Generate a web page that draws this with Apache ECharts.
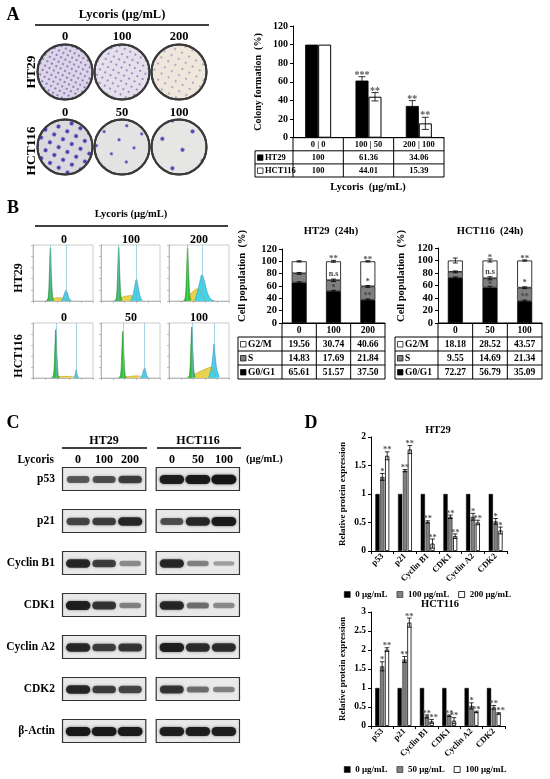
<!DOCTYPE html>
<html>
<head>
<meta charset="utf-8">
<title>Lycoris figure</title>
<script src="https://cdn.jsdelivr.net/npm/echarts@6.0.0/dist/echarts.min.js"></script>
<style>
html, body { margin: 0; padding: 0; background: #fff; }
#fig { width: 550px; height: 779px; }
</style>
</head>
<body>
<div id="fig"></div>
<script>
// ---------- A: colony formation ----------
var colonyDoses = ['0 | 0', '100 | 50', '200 | 100'];
var colonyHT29 = [100, 61.36, 34.06];
var colonyHT29Err = [0, 4.2, 5.8];
var colonyHT29Sig = ['', '***', '**'];
var colonyHCT116 = [100, 44.01, 15.39];
var colonyHCT116Err = [0, 4.5, 6.5];
var colonyHCT116Sig = ['', '**', '**'];
var plateDosesHT29 = ['0', '100', '200'];
var plateDosesHCT116 = ['0', '50', '100'];

// ---------- B: cell cycle ----------
var cycleDosesHT29 = ['0', '100', '200'];
var cycleDosesHCT116 = ['0', '50', '100'];
var ht29G0G1 = [65.61, 51.57, 37.50];
var ht29S = [14.83, 17.69, 21.84];
var ht29G2M = [19.56, 30.74, 40.66];
var ht29ErrG0G1 = [1.2, 1.5, 1.5];
var ht29ErrS = [1.5, 2, 1.5];
var ht29ErrG2M = [1, 1.5, 1];
var ht29SigTop = ['', '**', '**'];
var ht29SigG2M = ['', 'n.s', '*'];
var ht29SigS = ['', '*', '**'];
var hct116G0G1 = [72.27, 56.79, 35.09];
var hct116S = [9.55, 14.69, 21.34];
var hct116G2M = [18.18, 28.52, 43.57];
var hct116ErrG0G1 = [1.5, 2, 1.5];
var hct116ErrS = [1.5, 2.5, 1.5];
var hct116ErrG2M = [4, 2.5, 1];
var hct116SigTop = ['', '*', '**'];
var hct116SigG2M = ['', 'n.s', '*'];
var hct116SigS = ['', '*', '**'];

// flow histograms: [channel, relative count], read by eye
var histG1 = [
  [[22,0],[25,5],[27,40],[29,95],[31,40],[33,6],[35,1]],
  [[23,0],[26,6],[28,45],[30,96],[32,45],[34,7],[36,1]],
  [[24,0],[27,6],[29,45],[31,95],[33,45],[35,8],[37,2]],
  [[31,0],[34,5],[36,40],[38,88],[40,40],[42,5],[44,0]],
  [[30,0],[33,5],[35,40],[37,85],[39,40],[41,5],[43,0]],
  [[31,0],[34,6],[36,45],[38,93],[40,45],[42,8],[44,2]]
];
var histS = [
  [[31,3],[35,5],[40,6],[45,6],[50,5],[54,3],[58,1]],
  [[32,4],[38,8],[44,9],[50,10],[55,8],[60,4],[64,1]],
  [[33,8],[38,15],[43,20],[48,22],[52,18],[56,10],[60,3]],
  [[40,2],[50,3],[60,3],[68,2]],
  [[39,2],[50,3],[60,4],[68,3]],
  [[40,6],[48,10],[56,14],[64,18],[70,20],[74,12],[78,4]]
];
var histG2 = [
  [[47,0],[50,6],[53,15],[55,19],[57,15],[60,6],[64,0]],
  [[50,0],[54,10],[57,26],[60,39],[63,26],[66,10],[70,1]],
  [[43,0],[47,15],[51,33],[55,47],[59,36],[64,15],[70,3],[76,0]],
  [[68,0],[70,5],[72,15],[74,5],[76,0]],
  [[67,0],[70,6],[72,14],[74,18],[76,12],[78,4],[80,0]],
  [[66,0],[70,15],[73,40],[75,62],[77,40],[80,15],[84,2]]
];

// ---------- C: western blots (band darkness 0-1) ----------
var blotProteins = ['p53', 'p21', 'Cyclin B1', 'CDK1', 'Cyclin A2', 'CDK2', 'β-Actin'];
var blotLanesHT29 = ['0', '100', '200'];
var blotLanesHCT116 = ['0', '50', '100'];
var bandHT29 = [
  [0.55, 0.6, 0.7],
  [0.65, 0.7, 0.85],
  [0.85, 0.7, 0.3],
  [0.9, 0.75, 0.35],
  [0.85, 0.7, 0.75],
  [0.85, 0.7, 0.65],
  [0.95, 0.95, 0.95]
];
var bandHCT116 = [
  [0.9, 0.95, 1],
  [0.6, 0.85, 0.95],
  [0.85, 0.35, 0.2],
  [0.85, 0.45, 0.3],
  [0.9, 0.8, 0.8],
  [0.75, 0.45, 0.35],
  [0.9, 0.9, 0.9]
];

// ---------- D: relative protein expression ----------
var proteinNames = ['p53', 'p21', 'Cyclin B1', 'CDK1', 'Cyclin A2', 'CDK2'];
var ht29Dose0 = [1, 1, 1, 1, 1, 1];
var ht29Dose100 = [1.30, 1.41, 0.51, 0.60, 0.60, 0.52];
var ht29Dose200 = [1.67, 1.78, 0.13, 0.26, 0.50, 0.36];
var ht29Err100 = [0.06, 0.02, 0.02, 0.03, 0.06, 0.05];
var ht29Err200 = [0.07, 0.07, 0.08, 0.04, 0.04, 0.06];
var ht29Sig100 = ['*', '**', '**', '**', '*', '*'];
var ht29Sig200 = ['**', '**', '**', '**', '**', '*'];
var hct116Dose0 = [1, 1, 1, 1, 1, 1];
var hct116Dose50 = [1.57, 1.75, 0.25, 0.27, 0.53, 0.49];
var hct116Dose100 = [2.01, 2.72, 0.12, 0.14, 0.37, 0.33];
var hct116Err50 = [0.12, 0.08, 0.04, 0.02, 0.08, 0.05];
var hct116Err100 = [0.05, 0.12, 0.05, 0.08, 0.02, 0.02];
var hct116Sig50 = ['*', '**', '**', '**', '*', '**'];
var hct116Sig100 = ['**', '**', '***', '**', '**', '***'];

// ---------- helpers ----------
var SERIF = '"Liberation Serif", "Times New Roman", serif';
function fnt(size) { return 'bold ' + size + 'px ' + SERIF; }

function txt(x, y, s, size, align, extra) {
  var a = align || 'center';
  var el = { type: 'text', x: x, y: y, silent: true,
    style: { text: s, font: fnt(size), fill: '#000', textAlign: a, textVerticalAlign: 'middle', align: a, verticalAlign: 'middle' } };
  if (extra) for (var k in extra) el[k] = extra[k];
  return el;
}
function vtxt(x, y, s, size) { return txt(x, y, s, size, 'center', { rotation: Math.PI / 2 }); }
function hl(x1, y1, x2, y2, w) {
  return { type: 'line', silent: true, shape: { x1: x1, y1: y1, x2: x2, y2: y2 }, style: { stroke: '#000', lineWidth: w || 1 } };
}
function fmt(v) { return Number.isInteger(v) ? String(v) : v.toFixed(2); }

function errSeries(grid, tops, errs, dx, cap, sigs, size) {
  return {
    type: 'custom', xAxisIndex: grid, yAxisIndex: grid, silent: true, z: 5, clip: false,
    data: tops.map(function (v, i) { return [i, v, errs[i]]; }),
    renderItem: function (params, api) {
      var i = api.value(0), v = api.value(1), e = api.value(2);
      var hi = api.coord([i, v + e]), lo = api.coord([i, v - e]);
      var x = hi[0] + dx, kids = [];
      var ls = { stroke: '#000', lineWidth: 0.8 };
      if (e > 0) {
        kids.push({ type: 'line', shape: { x1: x, y1: hi[1], x2: x, y2: lo[1] }, style: ls });
        kids.push({ type: 'line', shape: { x1: x - cap, y1: hi[1], x2: x + cap, y2: hi[1] }, style: ls });
        kids.push({ type: 'line', shape: { x1: x - cap, y1: lo[1], x2: x + cap, y2: lo[1] }, style: ls });
      }
      var s = sigs ? sigs[params.dataIndex] : '';
      if (s) kids.push({ type: 'text', x: x, y: hi[1] + size * 0.35, style: { text: s, font: fnt(size), fill: '#555',
        textAlign: 'center', textVerticalAlign: 'bottom', align: 'center', verticalAlign: 'bottom' } });
      return { type: 'group', children: kids };
    }
  };
}

function noteSeries(grid, ys, labels, size, color) {
  return {
    type: 'custom', xAxisIndex: grid, yAxisIndex: grid, silent: true, z: 6,
    data: ys.map(function (v, i) { return [i, v]; }),
    renderItem: function (params, api) {
      var s = labels[params.dataIndex];
      if (!s) return null;
      var p = api.coord([api.value(0), api.value(1)]);
      var dy = s.charAt(0) === '*' ? size * 0.3 : 0;
      return { type: 'text', x: p[0], y: p[1] + dy, style: { text: s, font: fnt(size), fill: color,
        textAlign: 'center', textVerticalAlign: 'middle', align: 'center', verticalAlign: 'middle' } };
    }
  };
}

function tableEls(labelLeft, axisX, right, top, rowH, headers, rows, size) {
  var els = [], n = headers.length, colW = (right - axisX) / n, nr = rows.length;
  var bottom = top + rowH * (nr + 1);
  els.push(hl(axisX, top, right, top));
  for (var r = 0; r < nr; r++) els.push(hl(labelLeft, top + rowH * (r + 1), right, top + rowH * (r + 1)));
  els.push(hl(labelLeft, bottom, right, bottom));
  els.push(hl(labelLeft, top + rowH, labelLeft, bottom));
  for (var c = 0; c <= n; c++) els.push(hl(axisX + colW * c, top, axisX + colW * c, bottom));
  headers.forEach(function (h, c) { els.push(txt(axisX + colW * (c + 0.5), top + rowH / 2 + 0.5, h, size)); });
  rows.forEach(function (row, r) {
    var cy = top + rowH * (r + 1.5) + 0.5;
    els.push({ type: 'rect', silent: true, shape: { x: labelLeft + 2.5, y: cy - 3, width: 5.5, height: 5.5 },
      style: { fill: row.swatch, stroke: '#000', lineWidth: 0.7 } });
    els.push(txt(labelLeft + 10, cy, row.label, size, 'left'));
    row.values.forEach(function (v, c) { els.push(txt(axisX + colW * (c + 0.5), cy, fmt(v), size)); });
  });
  return els;
}

function sumArr(a, b) { return a.map(function (v, i) { return v + b[i]; }); }

// ---------- grids & axes ----------
var grids = [
  { left: 293, top: 26, width: 151, height: 111.7 },   // 0 A
  { left: 282, top: 249, width: 103, height: 74 },     // 1 B HT29
  { left: 438, top: 248, width: 104, height: 75 },     // 2 B HCT116
  { left: 371, top: 437, width: 136, height: 114 },    // 3 D HT29
  { left: 371, top: 612, width: 134, height: 114 },    // 4 D HCT116
  { left: 62, top: 458, width: 178, height: 294 }      // 5 C blots
];
var histLefts = [33, 101, 169], histWidths = [60, 59, 60];
for (var h = 0; h < 6; h++) {
  grids.push({ left: histLefts[h % 3], width: histWidths[h % 3], top: h < 3 ? 245 : 323, height: h < 3 ? 56 : 55,
    show: true, borderColor: '#aaa', borderWidth: 0.6, backgroundColor: '#fff' });
}

var axLine = { show: true, lineStyle: { color: '#000', width: 1 } };
function catX(grid, data) {
  return { type: 'category', gridIndex: grid, data: data, axisLine: axLine, axisTick: { show: false }, axisLabel: { show: false } };
}
function valY(grid, max, interval, size) {
  return { type: 'value', gridIndex: grid, min: 0, max: max, interval: interval, axisLine: axLine,
    axisTick: { show: true, length: 3, lineStyle: { color: '#000' } }, splitLine: { show: false },
    axisLabel: { color: '#000', fontFamily: SERIF, fontWeight: 'bold', fontSize: size, margin: 5 } };
}
function protX(grid) {
  return { type: 'category', gridIndex: grid, data: proteinNames, axisLine: axLine,
    axisTick: { show: true, length: 3, lineStyle: { color: '#000' } },
    axisLabel: { rotate: 45, interval: 0, margin: 4, color: '#000', fontFamily: SERIF, fontWeight: 'bold', fontSize: 8.5 } };
}

var xAxes = [catX(0, colonyDoses), catX(1, cycleDosesHT29), catX(2, cycleDosesHCT116), protX(3), protX(4),
  { type: 'value', gridIndex: 5, min: -0.62, max: 6.22, show: false }];
var yAxes = [valY(0, 120, 20, 10), valY(1, 120, 20, 10.5), valY(2, 120, 20, 10.5), valY(3, 2, 0.5, 9.5), valY(4, 3, 0.5, 9.5),
  { type: 'category', gridIndex: 5, data: blotProteins, inverse: true, show: false }];
for (h = 0; h < 6; h++) {
  var thin = { show: true, lineStyle: { color: '#999', width: 0.6 } };
  xAxes.push({ type: 'value', gridIndex: 6 + h, min: 0, max: 100, interval: 20, axisLine: thin,
    axisTick: { show: true, length: 2, lineStyle: { color: '#999', width: 0.6 } }, axisLabel: { show: false }, splitLine: { show: false } });
  yAxes.push({ type: 'value', gridIndex: 6 + h, min: 0, max: 100, interval: 20, axisLine: thin,
    axisTick: { show: true, length: 2, lineStyle: { color: '#999', width: 0.6 } }, axisLabel: { show: false }, splitLine: { show: false } });
}

// ---------- series ----------
var series = [];

// A: plates (photo stand-ins)
var plateX = [65, 122, 179], plateY = [72, 147];
var plateFill = [['#dcd5e7', '#e4dfea', '#efe6dc'], ['#dadade', '#e3e3e3', '#e6e6e4']];
var plateDecal = [
  [{ c: 'rgba(70,50,150,0.7)', s: 1, dx: [1.6, 2.2], dy: [1.6, 2.4] },
   { c: 'rgba(70,50,150,0.6)', s: 1, dx: [1.4, 3.2], dy: [1.4, 3.4] },
   { c: 'rgba(90,70,150,0.5)', s: 1, dx: [1.2, 6], dy: [1.2, 5] }],
  [{ c: 'rgba(55,40,170,0.9)', s: 1, dx: [3.5, 5.5], dy: [3.5, 5] },
   { c: 'rgba(55,40,170,0.85)', s: 1, dx: [3, 14], dy: [3, 13] },
   { c: 'rgba(55,40,170,0.85)', s: 1, dx: [3.2, 19], dy: [3.2, 17] }]
];
[plateDosesHT29, plateDosesHCT116].forEach(function (doses, r) {
  doses.forEach(function (d, c) {
    var dc = plateDecal[r][c];
    series.push({ type: 'pie', name: 'plate ' + r + '-' + d, center: [plateX[c], plateY[r]], radius: 27.5, silent: true,
      label: { show: false }, labelLine: { show: false }, emphasis: { disabled: true },
      data: [{ value: 1, name: 'plate' }],
      itemStyle: { color: plateFill[r][c], borderColor: '#3a3a3a', borderWidth: 2,
        decal: { symbol: 'circle', symbolSize: dc.s, dashArrayX: dc.dx, dashArrayY: dc.dy, rotation: 0.5, color: dc.c } } });
  });
});

// A: bars
series.push({ type: 'bar', name: 'HT29', xAxisIndex: 0, yAxisIndex: 0, data: colonyHT29, barWidth: 13, barGap: '0%', silent: true,
  itemStyle: { color: '#000', borderColor: '#000', borderWidth: 0.8 } });
series.push({ type: 'bar', name: 'HCT116', xAxisIndex: 0, yAxisIndex: 0, data: colonyHCT116, barWidth: 13, barGap: '0%', silent: true,
  itemStyle: { color: '#fff', borderColor: '#000', borderWidth: 1 } });
series.push(errSeries(0, colonyHT29, colonyHT29Err, -6.5, 3.5, colonyHT29Sig, 10));
series.push(errSeries(0, colonyHCT116, colonyHCT116Err, 6.5, 3.5, colonyHCT116Sig, 10));

// B: histograms
for (h = 0; h < 6; h++) {
  var base = { type: 'line', xAxisIndex: 6 + h, yAxisIndex: 6 + h, symbol: 'none', smooth: 0.4, silent: true, animation: false };
  series.push(Object.assign({}, base, { name: 'S', data: histS[h], lineStyle: { color: '#b99a2a', width: 0.5 },
    areaStyle: { color: '#e8d24f', opacity: 1 } }));
  [[histG1[h], '#35c23e', '#1d7a24'], [histG2[h], '#3fd5ea', '#2a8fb0']].forEach(function (g) {
    var peak = g[0].reduce(function (m, p) { return p[1] > m[1] ? p : m; });
    series.push(Object.assign({}, base, { name: 'peak', data: g[0], lineStyle: { color: g[2], width: 0.5 },
      areaStyle: { color: g[1], opacity: 1 },
      markLine: { silent: true, symbol: 'none', label: { show: false }, lineStyle: { color: '#6bb7d6', width: 0.6, type: 'solid' },
        data: [{ xAxis: peak[0] }] } }));
  });
}

// B: stacked cell cycle bars
function cycleBars(grid, g0, s, g2, e0, es, e2, sigTop, sigG2, sigS) {
  var st = 'cycle' + grid;
  var common = { type: 'bar', xAxisIndex: grid, yAxisIndex: grid, stack: st, barWidth: 15, silent: true };
  series.push(Object.assign({}, common, { name: 'G0/G1', data: g0, itemStyle: { color: '#000', borderColor: '#000', borderWidth: 0.6 } }));
  series.push(Object.assign({}, common, { name: 'S', data: s, itemStyle: { color: '#7f7f7f', borderColor: '#000', borderWidth: 0.6 } }));
  series.push(Object.assign({}, common, { name: 'G2/M', data: g2, itemStyle: { color: '#fff', borderColor: '#000', borderWidth: 0.8 } }));
  var t0 = g0, t1 = sumArr(g0, s), t2 = sumArr(t1, g2);
  series.push(errSeries(grid, t0, e0, 0, 2.5, null, 9));
  series.push(errSeries(grid, t1, es, 0, 2.5, null, 9));
  series.push(errSeries(grid, t2, e2, 0, 2.5, sigTop, 9));
  series.push(noteSeries(grid, t1.map(function (v) { return v + 11; }), sigG2, 8, '#444'));
  series.push(noteSeries(grid, t0.map(function (v, i) { return v + s[i] / 2; }), sigS, 8, '#444'));
}
cycleBars(1, ht29G0G1, ht29S, ht29G2M, ht29ErrG0G1, ht29ErrS, ht29ErrG2M, ht29SigTop, ht29SigG2M, ht29SigS);
cycleBars(2, hct116G0G1, hct116S, hct116G2M, hct116ErrG0G1, hct116ErrS, hct116ErrG2M, hct116SigTop, hct116SigG2M, hct116SigS);

// C: blot frames and bands
var groupMid = [1, 4.6];
var frameData = [], bandData = [];
blotProteins.forEach(function (p, r) {
  [bandHT29, bandHCT116].forEach(function (bands, g) {
    frameData.push([groupMid[g], r]);
    bands[r].forEach(function (d, l) { bandData.push([groupMid[g] - 1 + l, r, d]); });
  });
});
series.push({ type: 'custom', xAxisIndex: 5, yAxisIndex: 5, silent: true, z: 2, data: frameData,
  renderItem: function (params, api) {
    var a = api.coord([api.value(0) - 1.6, api.value(1)]), b = api.coord([api.value(0) + 1.6, api.value(1)]);
    return { type: 'rect', shape: { x: a[0], y: a[1] - 11.5, width: b[0] - a[0], height: 23 },
      style: { fill: '#e9e9e9', stroke: '#333', lineWidth: 1.2 } };
  } });
series.push({ type: 'custom', xAxisIndex: 5, yAxisIndex: 5, silent: true, z: 3, data: bandData,
  renderItem: function (params, api) {
    var p = api.coord([api.value(0), api.value(1)]), d = api.value(2);
    var w = 20 + 5 * d, hh = 3.5 + 6 * d;
    return { type: 'rect', shape: { x: p[0] - w / 2, y: p[1] - hh / 2 + 0.5, width: w, height: hh, r: hh / 2 },
      style: { fill: 'rgba(22,22,22,' + (0.15 + 0.85 * d).toFixed(2) + ')', shadowBlur: 3, shadowColor: 'rgba(0,0,0,' + (0.6 * d).toFixed(2) + ')' } };
  } });

// D: grouped bars
function proteinBars(grid, names, vals, errs, sigs) {
  var styles = [
    { color: '#000', borderColor: '#000', borderWidth: 0.5 },
    { color: '#808080', borderColor: '#222', borderWidth: 0.6 },
    { color: '#fff', borderColor: '#000', borderWidth: 0.8 }
  ];
  var w = 4.2, step = w * 1.15;
  vals.forEach(function (v, k) {
    series.push({ type: 'bar', name: names[k], xAxisIndex: grid, yAxisIndex: grid, data: v, barWidth: w, barGap: '15%',
      silent: true, itemStyle: styles[k] });
  });
  series.push(errSeries(grid, vals[1], errs[0], 0, 2.3, sigs[0], 8.5));
  series.push(errSeries(grid, vals[2], errs[1], step, 2.3, sigs[1], 8.5));
}
proteinBars(3, ['0 μg/mL', '100 μg/mL', '200 μg/mL'], [ht29Dose0, ht29Dose100, ht29Dose200], [ht29Err100, ht29Err200], [ht29Sig100, ht29Sig200]);
proteinBars(4, ['0 μg/mL', '50 μg/mL', '100 μg/mL'], [hct116Dose0, hct116Dose50, hct116Dose100], [hct116Err50, hct116Err100], [hct116Sig50, hct116Sig100]);

// ---------- text, rules and tables ----------
var els = [];
// A
els.push(txt(13, 15, 'A', 18));
els.push(txt(122, 15, 'Lycoris (μg/mL)', 12.5));
els.push(hl(35, 25, 209, 25, 1.5));
plateDosesHT29.forEach(function (d, c) { els.push(txt(plateX[c], 37, d, 12.5)); });
plateDosesHCT116.forEach(function (d, c) { els.push(txt(plateX[c], 113, d, 12.5)); });
els.push(vtxt(32, 72, 'HT29', 13.5));
els.push(vtxt(32, 151, 'HCT116', 13.5));
els.push(vtxt(258, 82, 'Colony formation  (%)', 10));
els.push(txt(368, 187, 'Lycoris  (μg/mL)', 10.5));
els = els.concat(tableEls(255, 293, 444, 137.7, 13.1, colonyDoses,
  [{ swatch: '#000', label: 'HT29', values: colonyHT29 }, { swatch: '#fff', label: 'HCT116', values: colonyHCT116 }], 8.5));
// B
els.push(txt(13, 208, 'B', 18));
els.push(txt(131, 214, 'Lycoris (μg/mL)', 10.5));
els.push(hl(35, 226, 228, 226, 1.5));
var histCx = [64, 131, 199];
cycleDosesHT29.forEach(function (d, c) { els.push(txt(histCx[c], 240, d, 12)); });
cycleDosesHCT116.forEach(function (d, c) { els.push(txt(histCx[c], 318, d, 12)); });
els.push(vtxt(19, 278, 'HT29', 12));
els.push(vtxt(19, 356, 'HCT116', 12));
els.push(txt(331, 231, 'HT29  (24h)', 10.5));
els.push(txt(490, 231, 'HCT116  (24h)', 10.5));
els.push(vtxt(242, 276, 'Cell population  (%)', 10.5));
els.push(vtxt(401, 276, 'Cell population  (%)', 10.5));
els = els.concat(tableEls(238, 282, 385, 323, 14, cycleDosesHT29,
  [{ swatch: '#fff', label: 'G2/M', values: ht29G2M }, { swatch: '#7f7f7f', label: 'S', values: ht29S },
   { swatch: '#000', label: 'G0/G1', values: ht29G0G1 }], 9.5));
els = els.concat(tableEls(395, 438, 542, 323, 14, cycleDosesHCT116,
  [{ swatch: '#fff', label: 'G2/M', values: hct116G2M }, { swatch: '#7f7f7f', label: 'S', values: hct116S },
   { swatch: '#000', label: 'G0/G1', values: hct116G0G1 }], 9.5));
// C
els.push(txt(13, 423, 'C', 18));
els.push(txt(104, 441, 'HT29', 12));
els.push(hl(62, 448, 147, 448, 1.5));
els.push(txt(198, 441, 'HCT116', 12));
els.push(hl(157, 448, 241, 448, 1.5));
els.push(txt(54, 460, 'Lycoris', 11.5, 'right'));
var laneX = [78, 104, 130, 172, 198, 224];
blotLanesHT29.concat(blotLanesHCT116).forEach(function (d, i) { els.push(txt(laneX[i], 460, d, 12)); });
els.push(txt(246, 459, '(μg/mL)', 10.5, 'left'));
blotProteins.forEach(function (p, r) { els.push(txt(55, 479 + 42 * r, p, 11.5, 'right')); });
// D
els.push(txt(311, 423, 'D', 18));
els.push(txt(438, 430, 'HT29', 10.5));
els.push(txt(440, 604, 'HCT116', 10.5));
els.push(vtxt(343, 494, 'Relative protein expression', 9));
els.push(vtxt(343, 669, 'Relative protein expression', 9));

var legendText = { color: '#000', fontFamily: SERIF, fontWeight: 'bold', fontSize: 9 };
function legendItems(names) {
  var st = [{ color: '#000', borderColor: '#000', borderWidth: 0.5 }, { color: '#808080', borderColor: '#222', borderWidth: 0.6 },
    { color: '#fff', borderColor: '#000', borderWidth: 0.8 }];
  return names.map(function (n, k) { return { name: n, icon: 'rect', itemStyle: st[k] }; });
}

var chart = echarts.init(document.getElementById('fig'), null, { renderer: 'canvas' });
chart.setOption({
  animation: false,
  backgroundColor: '#fff',
  textStyle: { fontFamily: SERIF },
  grid: grids,
  xAxis: xAxes,
  yAxis: yAxes,
  legend: [
    { left: 339, top: 585, itemWidth: 6, itemHeight: 6, itemGap: 9, selectedMode: false, textStyle: legendText,
      data: legendItems(['0 μg/mL', '100 μg/mL', '200 μg/mL']) },
    { left: 339, top: 760, itemWidth: 6, itemHeight: 6, itemGap: 9, selectedMode: false, textStyle: legendText,
      data: legendItems(['0 μg/mL', '50 μg/mL', '100 μg/mL']) }
  ],
  series: series,
  graphic: { elements: els }
});
window.addEventListener('resize', function () { chart.resize(); });
</script>
</body>
</html>
